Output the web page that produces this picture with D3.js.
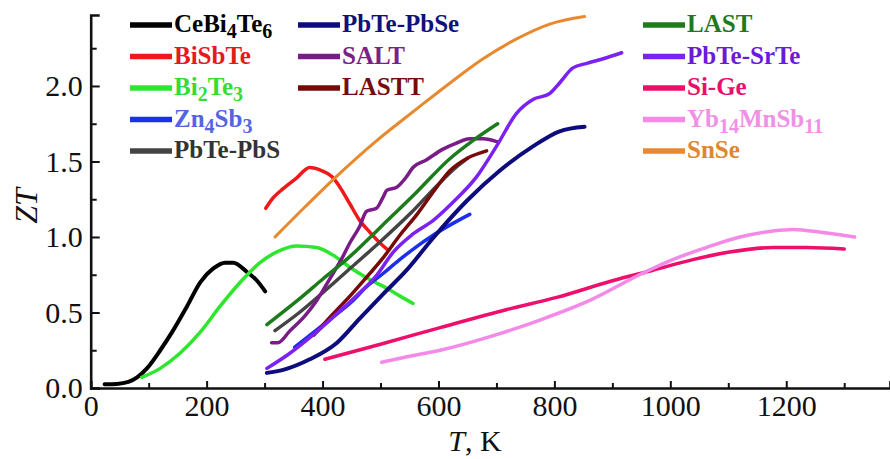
<!DOCTYPE html>
<html lang="en">
<head>
  <meta charset="UTF-8">
  <title>ZT vs T</title>
  <script src="https://d3js.org/d3.v7.min.js"></script>
  <style>
    body { margin: 0; background: #fff; }
    svg { display: block; }
    text { font-family: "Liberation Serif", "Times New Roman", serif; }
  </style>
</head>
<body>
  <div id="chart"></div>
  <script>
    // [T in K, ZT] pairs
    const CeBi4Te6 = [[24,0.025],[45,0.027],[65,0.04],[80,0.07],[97,0.13],[120,0.25],[142,0.38],[166,0.54],[189,0.70],[211,0.79],[232,0.83],[246,0.83],[269,0.77],[287,0.71],[301,0.64]];
    const BiSbTe = [[302,1.19],[315,1.26],[332,1.32],[355,1.39],[378,1.46],[398,1.44],[416,1.40],[430,1.33],[447,1.22],[464,1.11],[482,1.03],[499,0.96],[511,0.92]];
    const Bi2Te3 = [[88,0.07],[120,0.13],[154,0.23],[189,0.37],[223,0.54],[258,0.70],[292,0.83],[326,0.91],[355,0.94],[390,0.93],[418,0.88],[447,0.80],[476,0.73],[511,0.66],[533,0.61],[556,0.56]];
    const Zn4Sb3 = [[352,0.27],[385,0.37],[418,0.47],[450,0.57],[476,0.67],[505,0.76],[533,0.85],[560,0.93],[590,1.01],[625,1.09],[654,1.15]];
    const PbTePbS = [[318,0.38],[360,0.50],[400,0.63],[450,0.80],[500,0.97],[550,1.15],[600,1.35],[630,1.46],[650,1.52]];
    const PbTePbSe = [[304,0.10],[332,0.12],[378,0.19],[425,0.30],[464,0.46],[504,0.62],[545,0.78],[590,0.99],[649,1.24],[706,1.44],[763,1.60],[809,1.70],[852,1.73]];
    const SALT = [[312,0.30],[323,0.30],[344,0.38],[370,0.48],[390,0.58],[412,0.72],[435,0.87],[447,0.96],[464,1.07],[476,1.17],[493,1.19],[504,1.26],[511,1.31],[528,1.33],[545,1.40],[556,1.46],[579,1.51],[607,1.58],[630,1.62],[654,1.65],[677,1.65],[702,1.63]];
    const LASTT = [[385,0.35],[418,0.49],[450,0.62],[482,0.76],[504,0.86],[533,1.01],[563,1.15],[597,1.33],[620,1.44],[649,1.52],[683,1.57]];
    const LAST = [[304,0.42],[360,0.59],[400,0.72],[447,0.87],[504,1.08],[563,1.30],[620,1.52],[660,1.64],[702,1.75]];
    const PbTeSrTe = [[304,0.13],[340,0.22],[380,0.34],[430,0.51],[464,0.63],[494,0.75],[522,0.90],[556,1.02],[591,1.11],[625,1.23],[666,1.40],[700,1.60],[735,1.82],[763,1.91],[792,1.95],[809,2.02],[832,2.12],[856,2.15],[884,2.18],[916,2.22]];
    const SiGe = [[404,0.19],[500,0.29],[603,0.40],[718,0.52],[804,0.60],[900,0.71],[970,0.78],[1039,0.85],[1102,0.90],[1177,0.93],[1235,0.93],[1300,0.92]];
    const Yb14MnSb11 = [[502,0.17],[550,0.21],[603,0.25],[689,0.34],[775,0.45],[861,0.58],[947,0.75],[1004,0.85],[1062,0.93],[1120,1.00],[1177,1.04],[1211,1.05],[1263,1.03],[1318,1.00]];
    const SnSe = [[318,1.00],[370,1.20],[421,1.39],[494,1.64],[563,1.85],[620,2.02],[677,2.18],[734,2.31],[792,2.41],[852,2.46]];

    // legend labels, "_n" marks a subscript
    const labels = ["CeBi_4Te_6","BiSbTe","Bi_2Te_3","Zn_4Sb_3","PbTe-PbS","PbTe-PbSe","SALT","LASTT","LAST","PbTe-SrTe","Si-Ge","Yb_14MnSb_11","SnSe"];
    const seriesData = [CeBi4Te6,BiSbTe,Bi2Te3,Zn4Sb3,PbTePbS,PbTePbSe,SALT,LASTT,LAST,PbTeSrTe,SiGe,Yb14MnSb11,SnSe];

    const xMajor = [0,200,400,600,800,1000,1200];
    const xMinor = [100,300,500,700,900,1100,1300];
    const yMajor = [0,0.5,1.0,1.5,2.0];
    const yMinor = [0.25,0.75,1.25,1.75,2.25];

    const lineColors = ["#000000","#f01818","#2ee62e","#1a30ee","#444444","#0c0c7c","#7a1c88","#780a0a","#1c7c1c","#7b22f2","#ee0f6c","#f48ae8","#e8892f"];
    const textColors = ["#000000","#e41a1c","#33dd33","#5565e2","#333333","#10107e","#7a2286","#760c0c","#1e7a1e","#6a1ad8","#e8106c","#f090e6","#e0862e"];
    const lineWidths = [4,3.5,3.5,3.5,3.5,4,3.5,3.5,3.5,3.5,3.5,3.5,3];
    // legend slots: column, row
    const legendSlots = [[0,0],[0,1],[0,2],[0,3],[0,4],[1,0],[1,1],[1,2],[2,0],[2,1],[2,2],[2,3],[2,4]];
    const legendColX = [130, 298, 643];

    const W = 890, H = 459;
    const svg = d3.select('#chart').append('svg')
      .attr('width', W).attr('height', H);

    const x = d3.scaleLinear().domain([0, 1379]).range([90.7, 890]);
    const y = d3.scaleLinear().domain([0, 2.47]).range([388, 15]);

    // axes: major ticks with labels, minor without
    const gx = svg.append('g').attr('transform', `translate(0,${y(0)})`);
    gx.call(d3.axisBottom(x).tickValues(xMajor).tickSize(-7).tickPadding(7).tickFormat(d3.format('d')));
    gx.append('g').call(d3.axisBottom(x).tickValues(xMinor).tickSize(-5).tickFormat(''))
      .select('.domain').remove();

    const gy = svg.append('g').attr('transform', `translate(${x(0)},0)`);
    gy.call(d3.axisLeft(y).tickValues(yMajor).tickSize(-9).tickPadding(8).tickFormat(d3.format('.1f')));
    gy.append('g').call(d3.axisLeft(y).tickValues(yMinor).tickSize(-6).tickFormat(''))
      .select('.domain').remove();

    svg.selectAll('.domain').attr('stroke', '#111').attr('stroke-width', 2.6);
    svg.selectAll('.tick line').attr('stroke', '#111').attr('stroke-width', 2);
    svg.selectAll('.tick text')
      .attr('font-family', '"Liberation Serif", serif')
      .attr('font-size', 30).attr('fill', '#111');

    // axis titles
    svg.append('text')
      .attr('x', 475).attr('y', 451)
      .attr('text-anchor', 'middle')
      .attr('font-size', 30).attr('fill', '#111')
      .html('<tspan font-style="italic">T</tspan>, K');

    svg.append('text')
      .attr('transform', 'rotate(-90)')
      .attr('x', -206).attr('y', 37)
      .attr('text-anchor', 'middle')
      .attr('font-size', 32).attr('font-style', 'italic').attr('fill', '#111')
      .text('ZT');

    // data lines
    const line = d3.line()
      .x(d => x(d[0]))
      .y(d => y(d[1]))
      .curve(d3.curveMonotoneX);

    svg.append('g').selectAll('path')
      .data(seriesData)
      .enter()
      .append('path')
      .attr('d', line)
      .attr('fill', 'none')
      .attr('stroke', (d, i) => lineColors[i])
      .attr('stroke-width', (d, i) => lineWidths[i])
      .attr('stroke-linecap', 'round')
      .attr('stroke-linejoin', 'round');

    // legend
    const legend = svg.append('g');
    labels.forEach((lab, i) => {
      const [col, row] = legendSlots[i];
      const lx = legendColX[col];
      const ly = 25 + row * 31.5;
      legend.append('line')
        .attr('x1', lx).attr('x2', lx + 42)
        .attr('y1', ly).attr('y2', ly)
        .attr('stroke', lineColors[i])
        .attr('stroke-width', 5.5);
      const t = legend.append('text')
        .attr('x', lx + 44).attr('y', ly + 7)
        .attr('font-size', 25).attr('font-weight', 'bold')
        .attr('fill', textColors[i]);
      let lowered = false;
      lab.split(/(_\d+)/).filter(s => s.length).forEach(part => {
        if (part[0] === '_') {
          t.append('tspan').attr('font-size', 20).attr('dy', lowered ? 0 : 6).text(part.slice(1));
          lowered = true;
        } else {
          t.append('tspan').attr('dy', lowered ? -6 : 0).text(part);
          lowered = false;
        }
      });
    });
  </script>
</body>
</html>
